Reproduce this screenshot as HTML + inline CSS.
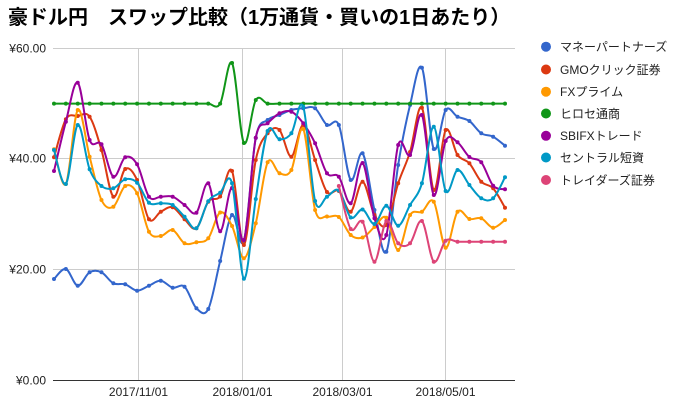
<!DOCTYPE html>
<html><head><meta charset="utf-8">
<style>
html,body{margin:0;padding:0;background:#fff;width:677px;height:406px;overflow:hidden;}
svg{display:block;}
text{font-family:"Liberation Sans","Noto Sans CJK JP",sans-serif;}
</style></head>
<body>
<svg id="c" width="677" height="406" viewBox="0 0 677 406" xmlns="http://www.w3.org/2000/svg">
<rect width="677" height="406" fill="#ffffff"/>
<text x="8" y="24" font-size="20" font-weight="bold" fill="#000">豪ドル円　スワップ比較（1万通貨・買いの1日あたり）</text>
<g stroke="#cccccc" stroke-width="1" fill="none">
<line x1="53" y1="48.5" x2="515" y2="48.5"/>
<line x1="53" y1="158.5" x2="515" y2="158.5"/>
<line x1="53" y1="269.5" x2="515" y2="269.5"/>
<line x1="138.5" y1="48" x2="138.5" y2="380"/>
<line x1="242.5" y1="48" x2="242.5" y2="380"/>
<line x1="342.5" y1="48" x2="342.5" y2="380"/>
<line x1="445.5" y1="48" x2="445.5" y2="380"/>
</g>
<line x1="53" y1="380.5" x2="515" y2="380.5" stroke="#333333" stroke-width="1"/>
<g font-size="12" fill="#222" text-anchor="end">
<text x="46" y="52.5">¥60.00</text>
<text x="46" y="162.5">¥40.00</text>
<text x="46" y="273.5">¥20.00</text>
<text x="46" y="384.5">¥0.00</text>
</g>
<g font-size="12" fill="#222" text-anchor="middle">
<text x="138.5" y="396">2017/11/01</text>
<text x="242.5" y="396">2018/01/01</text>
<text x="342.5" y="396">2018/03/01</text>
<text x="445.5" y="396">2018/05/01</text>
</g>
<g id="series"></g>
<g font-size="12" fill="#222">
<circle cx="546" cy="46.7" r="5" fill="#3366cc"/><text x="560" y="51">マネーパートナーズ</text>
<circle cx="546" cy="69.5" r="5" fill="#dc3912"/><text x="560" y="73.8">GMOクリック証券</text>
<circle cx="546" cy="91.7" r="5" fill="#ff9900"/><text x="560" y="96">FXプライム</text>
<circle cx="546" cy="113.5" r="5" fill="#109618"/><text x="560" y="117.8">ヒロセ通商</text>
<circle cx="546" cy="135.8" r="5" fill="#990099"/><text x="560" y="140">SBIFXトレード</text>
<circle cx="546" cy="157.5" r="5" fill="#0099c6"/><text x="560" y="161.8">セントラル短資</text>
<circle cx="546" cy="180" r="5" fill="#dd4477"/><text x="560" y="184.3">トレイダーズ証券</text>
</g>
</svg>
<script>
(function(){
var X0=54, DX=(505-54)/38;
var G=103.6;
var green=[];for(var i=0;i<39;i++)green.push(G);
green[15]=63;green[16]=143;green[17]=100;
var S=[
 {c:"#3366cc",s:0,d:[279,269,285.7,272.3,272.3,283.3,284.3,290.7,285.7,280.7,287.7,286.7,308.3,309,261,215,241,138,120,115,110,108.3,108.3,125,125,180,153.3,210,251.7,165,105,67.7,149,110,116.7,121,133.3,136.7,145.7]},
 {c:"#dc3912",s:0,d:[157.3,119.3,116,116.7,150,196.7,169,180,219.3,211.7,207.3,219.3,228.3,201.7,196.5,171,245,160,133.3,130,156.7,125,160,192,191,211.7,181.7,215,225,183.3,152,107.7,190,130,155,163.3,181.7,188.3,207.7]},
 {c:"#ff9900",s:0,d:[149.3,184,110,156.7,200,206.7,186,193.3,231.7,236,230,243.3,242.3,238.3,212.5,226,258.3,223.3,162.3,173.3,170,129,210,216.5,217,235,237.5,227,217.7,250,215,211.7,201.7,247.7,211.7,219,218.3,227.7,220]},
 {c:"#109618",s:0,d:green},
 {c:"#990099",s:0,d:[171,121.7,82.7,140,144.3,176.7,157.3,164.3,196.7,196.7,196.7,205,212.7,183.3,231.3,188,240,137.7,123.3,113.3,111.7,123.3,143.3,173.3,176.7,203.3,163,218.3,235,145,155,115,195,141,142.3,157,162.3,185.7,189.3]},
 {c:"#0099c6",s:0,d:[150,184,125,169.3,186,188.3,179.3,182.7,202.7,203.3,205,216.7,228.3,201.2,192.7,183.3,278.7,199,131,139.3,133.3,106.7,201,196.7,190.5,217.5,209.5,224,205.7,225.7,205,183.3,126.7,191,170,185,198.3,198.3,177.3]},
 {c:"#dd4477",s:24,d:[186,229,221.7,261.7,221,243.3,243.3,221,261.7,240.7,241.7,241.7,241.7,241.7,241.7]}
];
var ns="http://www.w3.org/2000/svg";
var g=document.getElementById("series");
function f(n){return Math.round(n*100)/100;}
S.forEach(function(s){
  var pts=s.d.map(function(y,k){return [X0+DX*(k+s.s),y];});
  var d="M"+f(pts[0][0])+","+f(pts[0][1]);
  var t=1/6;
  for(var i=0;i<pts.length-1;i++){
    var p0=pts[i-1]||pts[i],p1=pts[i],p2=pts[i+1],p3=pts[i+2]||p2;
    var c1x=p1[0]+(p2[0]-p0[0])*t,c1y=p1[1]+(p2[1]-p0[1])*t;
    var c2x=p2[0]-(p3[0]-p1[0])*t,c2y=p2[1]-(p3[1]-p1[1])*t;
    d+=" C"+f(c1x)+","+f(c1y)+" "+f(c2x)+","+f(c2y)+" "+f(p2[0])+","+f(p2[1]);
  }
  var p=document.createElementNS(ns,"path");
  p.setAttribute("d",d);p.setAttribute("fill","none");
  p.setAttribute("stroke",s.c);p.setAttribute("stroke-width","2");
  p.setAttribute("stroke-linejoin","round");
  g.appendChild(p);
  pts.forEach(function(q){
    var c=document.createElementNS(ns,"circle");
    c.setAttribute("cx",f(q[0]));c.setAttribute("cy",f(q[1]));
    c.setAttribute("r","2");c.setAttribute("fill",s.c);
    g.appendChild(c);
  });
});
})();
</script>
</body></html>
